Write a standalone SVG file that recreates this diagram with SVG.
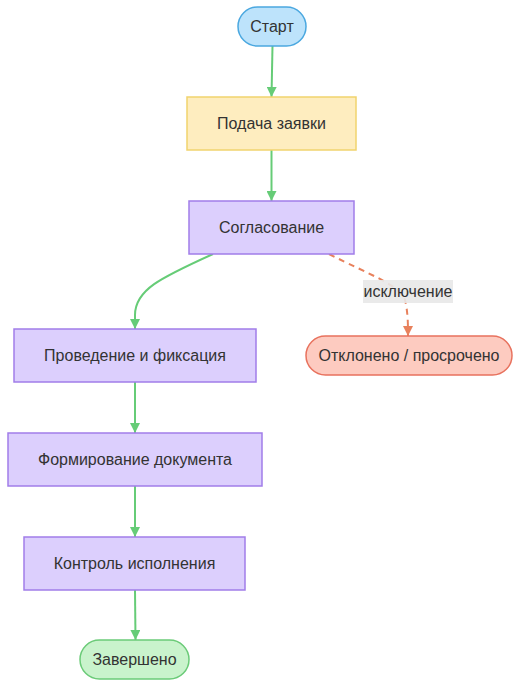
<svg xmlns="http://www.w3.org/2000/svg" width="520" height="688" viewBox="0 0 520 688">
<style>
text{font-family:"Liberation Sans",Arial,sans-serif;font-size:16px;fill:#333;text-anchor:middle;dominant-baseline:central}
.p{fill:#dccffd;stroke:#a17de9;stroke-width:1.5}
.e{fill:none;stroke:#66cc77;stroke-width:2}
.d{fill:none;stroke:#e8815c;stroke-width:2;stroke-dasharray:6 5}
</style>
<defs>
<marker id="ag" viewBox="0 0 10 10" refX="10" refY="5" markerWidth="5" markerHeight="5" orient="auto" markerUnits="strokeWidth"><path d="M0,0L10,5L0,10z" fill="#66cc77"/></marker>
<marker id="ar" viewBox="0 0 10 10" refX="10" refY="5" markerWidth="5" markerHeight="5" orient="auto" markerUnits="strokeWidth"><path d="M0,0L10,5L0,10z" fill="#e8815c"/></marker>
</defs>
<rect width="520" height="688" fill="#fff"/>
<g id="edges">
<path class="e" d="M272.5,46L271.5,97" marker-end="url(#ag)"/>
<path class="e" d="M271.5,150L271.5,201" marker-end="url(#ag)"/>
<path class="e" d="M213,254C160,278 135,290 135,315L135,329" marker-end="url(#ag)"/>
<path class="d" d="M329,254C370,275 400,285 405,300C408,312 408,325 408,336" marker-end="url(#ar)"/>
<path class="e" d="M135,382L135,433" marker-end="url(#ag)"/>
<path class="e" d="M135,486L135,537" marker-end="url(#ag)"/>
<path class="e" d="M135,590L135.5,640" marker-end="url(#ag)"/>
<g id="elabel"><rect x="363" y="280" width="90" height="23" fill="#e8e8e8" opacity="0.9"/><text x="408" y="291.5">исключение</text></g>
</g>
<g id="start"><rect x="238" y="7" width="68" height="39" rx="19.5" fill="#bde3fb" stroke="#4ba8e0" stroke-width="1.5"/><text x="272" y="26.5">Старт</text></g>
<g id="podacha"><rect x="187" y="97" width="169" height="53" fill="#feedbf" stroke="#f1d36e" stroke-width="1.5"/><text x="271.5" y="123.5">Подача заявки</text></g>
<g id="soglas"><rect class="p" x="189" y="201" width="165" height="53"/><text x="271.5" y="227.5">Согласование</text></g>
<g id="proved"><rect class="p" x="14" y="329" width="242" height="53"/><text x="135" y="355.5">Проведение и фиксация</text></g>
<g id="otkl"><rect x="306" y="336" width="206" height="39" rx="19.5" fill="#fdcbc0" stroke="#e8725e" stroke-width="1.5"/><text x="409" y="355.5">Отклонено / просрочено</text></g>
<g id="formir"><rect class="p" x="8" y="433" width="254" height="53"/><text x="135" y="459.5">Формирование документа</text></g>
<g id="kontrol"><rect class="p" x="24" y="537" width="221" height="53"/><text x="134.5" y="563.5">Контроль исполнения</text></g>
<g id="zaversh"><rect x="80" y="640" width="109" height="39" rx="19.5" fill="#c9f3cc" stroke="#6bcb78" stroke-width="1.5"/><text x="134.5" y="659.5">Завершено</text></g>
</svg>
